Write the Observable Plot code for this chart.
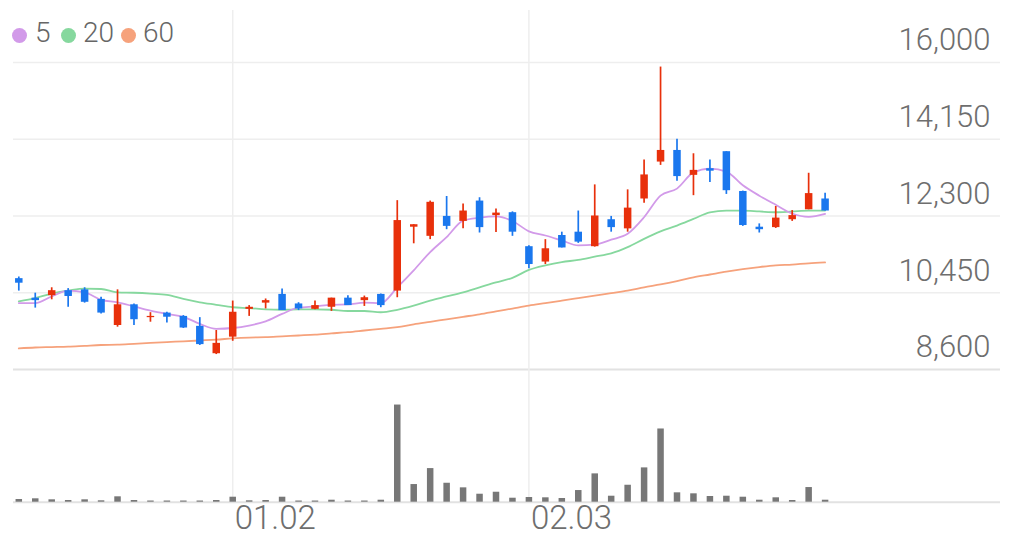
<!DOCTYPE html>
<html><head><meta charset="utf-8">
<script src="https://cdn.jsdelivr.net/npm/d3@7"></script>
<script src="https://cdn.jsdelivr.net/npm/@observablehq/plot@0.6"></script>
<style>
html,body{margin:0;padding:0;background:#fff;}
#wrap{position:relative;width:1009px;height:553px;overflow:hidden;font-family:Roboto,sans-serif;}
#price,#volume{position:absolute;left:0;}
#price{top:0;}
#volume{top:369px;}
.dot{position:absolute;width:15px;height:15px;border-radius:50%;}
.lt{position:absolute;font-size:28px;color:#666;line-height:28px;font-family:Roboto,sans-serif;font-weight:300;}
</style></head><body>
<div id="wrap"><div id="price"></div><div id="volume"></div><div id="legend"></div></div>
<script>
// ---- data (one entry per trading day, left to right) ----
const open  = [10790,10320,10380,10500,10520,10290,9660,10160,9850,9960,
               9880,9640,8980,9380,10050,10200,10410,10180,10050,10100,
               10320,10260,10410,10490,12030,11810,12290,12170,12660,12310,
               12380,11560,11190,11830,11910,11560,12210,11990,12710,13600,
               13880,13280,13440,13850,12890,12030,12020,12210,12450,12710];
const high  = [10830,10440,10570,10550,10570,10340,10520,10180,9970,9980,
               9900,9850,9540,10250,10140,10300,10540,10210,10250,10320,
               10380,10370,10420,12670,12090,12660,12770,12590,12740,12470,
               12400,11580,11730,11910,12420,13050,12290,12930,13650,15890,
               14150,13800,13650,13850,12900,12110,12530,12430,13330,12850];
const low   = [10490,10080,10280,10100,10200,9940,9620,9660,9740,9720,
               9590,9180,8960,9280,9880,10060,10020,10020,10040,10000,
               10140,10120,10090,10330,11630,11730,11970,11990,11890,11900,
               11810,11030,11130,11530,11640,11550,11910,11910,12610,13520,
               13140,12790,13110,12820,12050,11890,12000,12170,12450,12420];
const close = [10680,10260,10500,10360,10220,9960,10160,9800,9880,9860,
               9600,9200,9230,9980,10100,10260,10020,10060,10140,10320,
               10140,10330,10140,12190,12090,12630,12050,12420,12020,12370,
               11910,11130,11510,11530,11670,12300,12020,12490,13290,13880,
               13250,13400,13380,12910,12070,11970,12250,12310,12840,12420];
const ma5   = [10200,10200,10360,10500,10460,10280,10220,10120,10020,9940,
               9870,9700,9580,9600,9660,9760,9940,10090,10120,10160,
               10170,10210,10200,10580,10990,11430,11790,12190,12260,12290,
               12180,11930,11830,11710,11590,11610,11730,11870,12270,12790,
               12960,13350,13440,13370,13040,12790,12570,12360,12280,12350];
const ma20  = [10240,10320,10430,10500,10550,10540,10460,10450,10430,10400,
               10300,10220,10160,10100,10080,10050,10040,10050,10050,10040,
               10010,10010,9980,10040,10140,10260,10360,10460,10580,10700,
               10810,11000,11110,11190,11240,11320,11400,11550,11750,11930,
               12070,12230,12390,12430,12430,12410,12390,12410,12430,12430];
const ma60  = [9110,9130,9140,9150,9170,9190,9200,9220,9240,9260,
               9280,9300,9320,9350,9370,9380,9400,9420,9440,9470,
               9500,9540,9580,9620,9690,9750,9810,9870,9930,10000,
               10070,10140,10200,10260,10320,10380,10440,10500,10580,10650,
               10730,10820,10890,10960,11020,11070,11110,11130,11160,11180];
const vol   = [54,68,48,34,48,28,108,34,24,24,
               24,24,34,100,28,34,100,24,24,40,
               24,24,40,1948,354,674,380,288,160,200,
               80,94,88,74,234,568,120,340,688,1468,
               188,168,114,120,100,40,88,34,294,40];
const yTicks = [8600,10450,12300,14150,16000];
const tickIdx = [13,31];
const tickLabels = ["01.02","02.03"];
const legendNames = ["5","20","60"];
const legendColors = ["#d29ae9","#86d89e","#f6a27c"];

// ---- build ----
const idx = d3.range(open.length);
const candles = idx.map(i => ({i, open: open[i], high: high[i], low: low[i], close: close[i]}));
const RED = "#e8300b", BLUE = "#1a77ee";
const colorOf = d => d.close >= d.open ? RED : BLUE;
const xScale = () => ({type:"linear", domain:[0, open.length-1], range:[18.3, 824.6], axis:null});
const fmt = d3.format(",");

const price = Plot.plot({
  width:1009, height:380, marginTop:10, marginBottom:11, marginLeft:13, marginRight:9,
  x: xScale(), y: {domain:[8600,16000], range:[369,62], axis:null},
  style: {fontFamily:"Roboto, sans-serif", background:"transparent", overflow:"visible"},
  marks: [
    Plot.ruleY(yTicks.slice(1), {stroke:"#eeeeee", strokeWidth:1.5}),
    Plot.ruleY(yTicks.slice(0,1), {stroke:"#e2e2e2", strokeWidth:2}),
    Plot.ruleX(tickIdx, {stroke:"#eeeeee", strokeWidth:1.5}),
    Plot.text(yTicks, {y: d => d, text: d => fmt(d), frameAnchor:"right", textAnchor:"end",
      dx:-10, dy:-22, fontSize:31, fill:"#6e6e6e", fontWeight:300}),
    Plot.lineY(ma60, {x:(d,i)=>i, y:d=>d, stroke:legendColors[2], strokeWidth:1.8, curve:"monotone-x"}),
    Plot.lineY(ma20, {x:(d,i)=>i, y:d=>d, stroke:legendColors[1], strokeWidth:1.8, curve:"monotone-x"}),
    Plot.lineY(ma5, {x:(d,i)=>i, y:d=>d, stroke:legendColors[0], strokeWidth:1.8, curve:"monotone-x"}),
    Plot.ruleX(candles, {x:"i", y1:"low", y2:"high", stroke: colorOf, strokeWidth:1.7}),
    Plot.ruleX(candles, {x:"i", y1:"open", y2:"close", stroke: colorOf, strokeWidth:7.5})
  ]
});
document.getElementById("price").appendChild(price);

const volume = Plot.plot({
  width:1009, height:184, marginTop:0, marginBottom:51.3, marginLeft:13, marginRight:9,
  x: xScale(), y: {domain:[0,2440], range:[132.7,11], axis:null},
  style: {fontFamily:"Roboto, sans-serif", background:"transparent", overflow:"visible"},
  marks: [
    Plot.ruleX(tickIdx, {stroke:"#eeeeee", strokeWidth:1.5}),
    Plot.ruleY([0], {stroke:"#e2e2e2", strokeWidth:2}),
    Plot.ruleX(idx, {x: i => i, y1: 0, y2: i => vol[i], stroke:"#777777", strokeWidth:6.5}),
    Plot.text(tickIdx, {x: d => d, text: (d, j) => tickLabels[j], frameAnchor:"bottom", textAnchor:"start",
      dx:2, dy:27, fontSize:33, fill:"#6e6e6e", fontWeight:300})
  ]
});
document.getElementById("volume").appendChild(volume);

// legend
const leg = document.getElementById("legend");
const dotX = [11.7, 60.7, 120.7], textX = [35, 83, 143];
legendNames.forEach((n, k) => {
  const d = document.createElement("div");
  d.className = "dot"; d.style.left = dotX[k] + "px"; d.style.top = "28.3px"; d.style.background = legendColors[k];
  leg.appendChild(d);
  const t = document.createElement("div");
  t.className = "lt"; t.style.left = textX[k] + "px"; t.style.top = "19px"; t.textContent = n;
  leg.appendChild(t);
});
</script>
</body></html>
